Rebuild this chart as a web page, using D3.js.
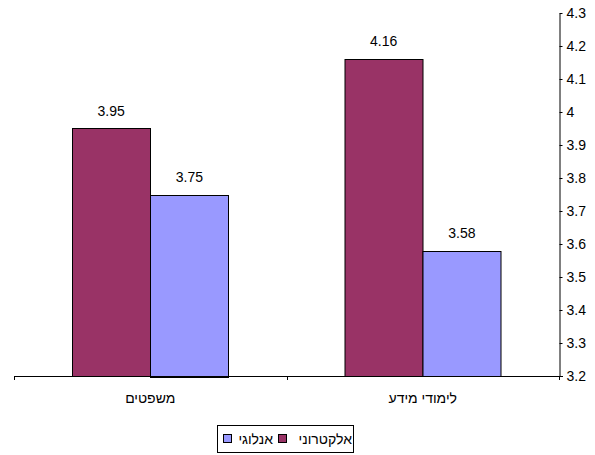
<!DOCTYPE html>
<html>
<head>
<meta charset="utf-8">
<script src="https://cdn.jsdelivr.net/npm/d3@7"></script>
<style>
  html, body { margin: 0; padding: 0; background: #fff; }
  svg text { font-family: "Liberation Sans", Arial, sans-serif; fill: #000; }
</style>
</head>
<body>
<svg id="chart" width="595" height="455"></svg>
<script>
// Categories are listed in reading order (right to left on the page)
const categories = ["לימודי מידע", "משפטים"];
const seriesNames = ["אלקטרוני", "אנלוגי"];
const electronicValues = [4.16, 3.95];
const analogValues = [3.58, 3.75];
const seriesColors = ["#993366", "#9999FF"];
const yTicks = [3.2, 3.3, 3.4, 3.5, 3.6, 3.7, 3.8, 3.9, 4, 4.1, 4.2, 4.3];
const yTickLabels = ["3.2", "3.3", "3.4", "3.5", "3.6", "3.7", "3.8", "3.9", "4", "4.1", "4.2", "4.3"];

const FONT = "14px";
const svg = d3.select("#chart");
const plot = { left: 14, right: 559, top: 13, bottom: 376 };

const rows = categories.map((c, i) => ({
  category: c,
  values: [electronicValues[i], analogValues[i]]
}));

// Right-to-left category axis
const x0 = d3.scaleBand().domain(categories).range([plot.right, plot.left]);
// The pair of bars fills the middle of each category slot
const gap = x0.bandwidth() * 0.2128;
const x1 = d3.scaleBand().domain(seriesNames)
  .range([gap, x0.bandwidth() - gap]);
const y = d3.scaleLinear().domain([3.2, 4.3]).range([plot.bottom, plot.top]);

// Bars
const groups = svg.append("g").selectAll("g")
  .data(rows).join("g")
  .attr("transform", d => `translate(${x0(d.category)},0)`);

groups.selectAll("rect")
  .data(d => d.values.map((v, i) => ({ name: seriesNames[i], value: v, idx: i })))
  .join("rect")
  .attr("x", d => Math.round(x1(d.name)) + 0.5)
  .attr("y", d => Math.round(y(d.value)) + 0.5)
  .attr("width", Math.round(x1.bandwidth()))
  .attr("height", d => Math.round(plot.bottom - y(d.value)))
  .attr("fill", d => seriesColors[d.idx])
  .attr("stroke", "#000")
  .attr("stroke-width", 1);

// Value labels above bars
groups.selectAll("text.val")
  .data(d => d.values.map((v, i) => ({ name: seriesNames[i], value: v })))
  .join("text")
  .attr("class", "val")
  .attr("x", d => x1(d.name) + x1.bandwidth() / 2)
  .attr("y", d => y(d.value) - 13)
  .attr("text-anchor", "middle")
  .attr("font-size", FONT)
  .text(d => d.value.toFixed(2));

// Value axis on the right
const yAxis = d3.axisRight(y)
  .tickValues(yTicks)
  .tickFormat((d, i) => yTickLabels[i])
  .tickSize(3)
  .tickSizeOuter(0)
  .tickPadding(4);

const yg = svg.append("g")
  .attr("transform", `translate(${plot.right + 0.5},0)`)
  .call(yAxis);
yg.selectAll("path, line").attr("stroke", "#000");
yg.selectAll("text").attr("font-size", FONT).attr("font-family", "Liberation Sans, Arial, sans-serif");

// Category axis
const xg = svg.append("g");
xg.append("line")
  .attr("x1", plot.left).attr("x2", plot.right + 4)
  .attr("y1", plot.bottom + 0.5).attr("y2", plot.bottom + 0.5)
  .attr("stroke", "#000");
const boundaries = categories.map(c => x0(c)).concat([plot.right]);
xg.selectAll("line.tick")
  .data(boundaries).join("line")
  .attr("class", "tick")
  .attr("x1", d => Math.round(d) + 0.5).attr("x2", d => Math.round(d) + 0.5)
  .attr("y1", plot.bottom).attr("y2", plot.bottom + 4)
  .attr("stroke", "#000");
xg.selectAll("text")
  .data(categories).join("text")
  .attr("x", d => x0(d) + x0.bandwidth() / 2)
  .attr("y", plot.bottom + 27)
  .attr("text-anchor", "middle")
  .attr("font-size", FONT)
  .text(d => d);

// Legend
const legend = svg.append("g");
legend.append("rect")
  .attr("x", 217.5).attr("y", 425.5)
  .attr("width", 136).attr("height", 27)
  .attr("fill", "#fff").attr("stroke", "#000");
const legendItems = [
  { name: seriesNames[1], color: seriesColors[1], sx: 223, tx: 273 },
  { name: seriesNames[0], color: seriesColors[0], sx: 278, tx: 352 }
];
legend.selectAll("rect.sw")
  .data(legendItems).join("rect")
  .attr("class", "sw")
  .attr("x", d => d.sx + 0.5).attr("y", 434.5)
  .attr("width", 8).attr("height", 8)
  .attr("fill", d => d.color).attr("stroke", "#000");
legend.selectAll("text")
  .data(legendItems).join("text")
  .attr("x", d => d.tx).attr("y", 444)
  .attr("text-anchor", "end")
  .attr("font-size", FONT)
  .text(d => d.name);
</script>
</body>
</html>
